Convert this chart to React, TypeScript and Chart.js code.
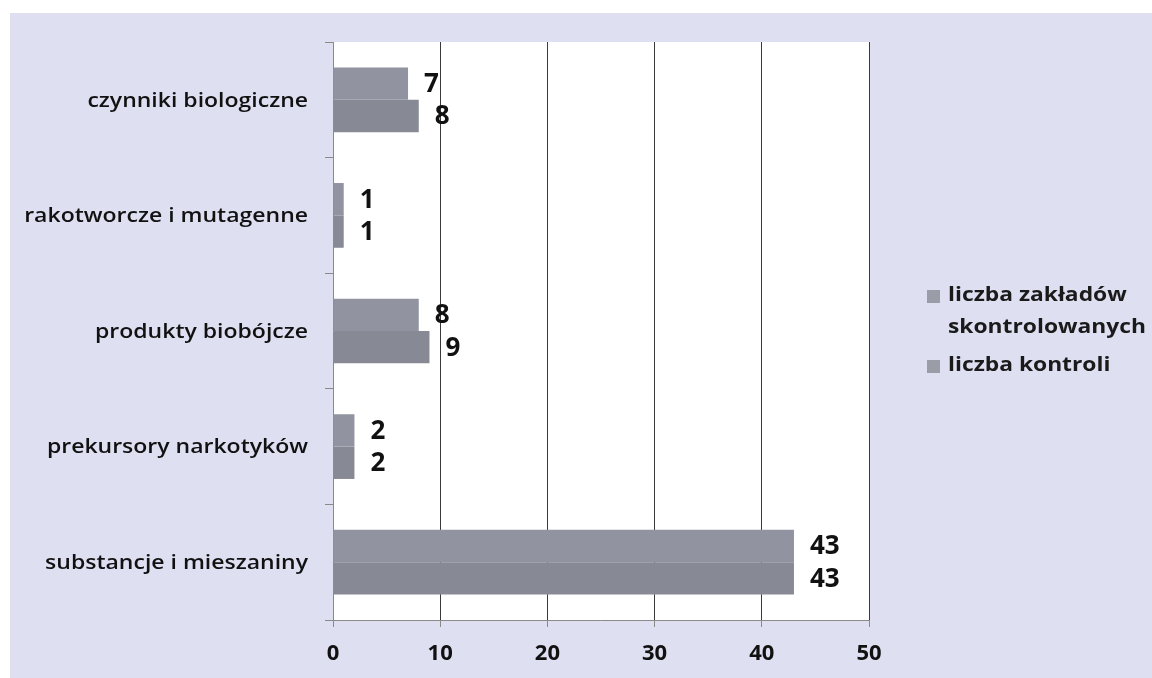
import React, { useEffect, useRef } from "react";
import { Chart, registerables } from "chart.js";

Chart.register(...registerables);

const categories = [
  "czynniki biologiczne",
  "rakotworcze i mutagenne",
  "produkty biobójcze",
  "prekursory narkotyków",
  "substancje i mieszaniny",
];
const zakladow = [7, 1, 8, 2, 43];
const kontroli = [8, 1, 9, 2, 43];
const seriesNames = [["liczba zakładów", "skontrolowanych"], ["liczba kontroli"]];
const xTicks = [0, 10, 20, 30, 40, 50];

const FONT = "'Open Sans', Lato, sans-serif";
const colors = ["#9194a0", "#878a94"];

const bgPlugin = {
  id: "bgPlugin",
  beforeDraw(chart: any) {
    const { ctx, chartArea } = chart;
    ctx.save();
    ctx.fillStyle = "#ffffff";
    ctx.fillRect(0, 0, chart.width, chart.height);
    ctx.fillStyle = "#dee0f2";
    ctx.fillRect(10, 13, chart.width - 10, chart.height - 13);
    ctx.fillStyle = "#ffffff";
    ctx.fillRect(chartArea.left, chartArea.top, chartArea.right - chartArea.left, chartArea.bottom - chartArea.top);
    ctx.restore();
  },
};

const catLabelPlugin = {
  id: "catLabelPlugin",
  afterDraw(chart: any) {
    const { ctx } = chart;
    const y = chart.scales.y;
    ctx.save();
    ctx.font = `600 20px ${FONT}`;
    ctx.fillStyle = "#111";
    ctx.textAlign = "right";
    ctx.textBaseline = "middle";
    chart.data.labels.forEach((lab: string, i: number) => {
      const py = y.getPixelForTick(i);
      ctx.save();
      ctx.translate(308, py + 1);
      ctx.scale(1.15, 1);
      ctx.fillText(lab, 0, 0);
      ctx.restore();
    });
    ctx.restore();
  },
};

const labelPlugin = {
  id: "labelPlugin",
  afterDatasetsDraw(chart: any) {
    const { ctx } = chart;
    ctx.save();
    ctx.font = `bold 26px ${FONT}`;
    ctx.fillStyle = "#111";
    ctx.textAlign = "left";
    ctx.textBaseline = "middle";
    chart.data.datasets.forEach((ds: any, di: number) => {
      const meta = chart.getDatasetMeta(di);
      meta.data.forEach((el: any, i: number) => {
        ctx.fillText(String(ds.data[i]), el.x + 16, el.y + 1);
      });
    });
    ctx.restore();
  },
};

const legendPlugin = {
  id: "legendPlugin",
  afterDraw(chart: any) {
    const { ctx } = chart;
    ctx.save();
    ctx.font = `bold 19px ${FONT}`;
    ctx.textBaseline = "middle";
    const x = 927;
    const items = [
      { y: 296, lines: seriesNames[0] },
      { y: 366, lines: seriesNames[1] },
    ];
    items.forEach((it) => {
      ctx.fillStyle = "#9a9ca8";
      ctx.fillRect(x, it.y - 6, 13, 13);
      ctx.fillStyle = "#1a1a1a";
      it.lines.forEach((ln: string, j: number) => {
        ctx.save();
        ctx.translate(x + 21, it.y + j * 32);
        ctx.scale(1.2, 1);
        ctx.fillText(ln, 0, 0);
        ctx.restore();
      });
    });
    ctx.restore();
  },
};

export default function App() {
  const ref = useRef<HTMLCanvasElement>(null);
  useEffect(() => {
    document.body.style.margin = "0";
    const chart = new Chart(ref.current!, {
      type: "bar",
      data: {
        labels: categories,
        datasets: [
          { label: seriesNames[0].join(" "), data: zakladow, backgroundColor: colors[0], categoryPercentage: 0.56, barPercentage: 1 },
          { label: seriesNames[1].join(" "), data: kontroli, backgroundColor: colors[1], categoryPercentage: 0.56, barPercentage: 1 },
        ],
      },
      options: {
        indexAxis: "y",
        animation: false,
        responsive: false,
        maintainAspectRatio: false,
        layout: { padding: { top: 42, right: 283, bottom: 0, left: 0 } },
        plugins: { legend: { display: false }, tooltip: { enabled: false } },
        scales: {
          x: {
            min: 0,
            max: 50,
            afterBuildTicks(scale: any) {
              scale.ticks = xTicks.map((v) => ({ value: v }));
            },
            afterFit(scale: any) {
              scale.height = 58;
            },
            border: { display: true, color: "#8a8a8a", width: 1 },
            grid: {
              color: (c: any) => (c.tick && c.tick.value === 0 ? "rgba(0,0,0,0)" : "#3a3a3a"),
              tickColor: "#8a8a8a",
              tickLength: 7,
              lineWidth: 1,
            },
            ticks: {
              color: "#111",
              font: { family: FONT, size: 22, weight: "bold" },
              padding: 14,
            },
          },
          y: {
            afterFit(scale: any) {
              scale.width = 333;
            },
            border: { display: true, color: "#8a8a8a", width: 1 },
            grid: {
              offset: true,
              drawOnChartArea: false,
              tickColor: "#8a8a8a",
              tickLength: 8,
            },
            ticks: {
              color: "rgba(0,0,0,0)",
              font: { family: FONT, size: 19, weight: 600 },
              padding: 18,
            },
          },
        },
      },
      plugins: [bgPlugin, labelPlugin, catLabelPlugin, legendPlugin],
    } as any);
    return () => chart.destroy();
  }, []);
  return <canvas ref={ref} width={1152} height={678} style={{ display: "block", width: 1152, height: 678 }} />;
}
